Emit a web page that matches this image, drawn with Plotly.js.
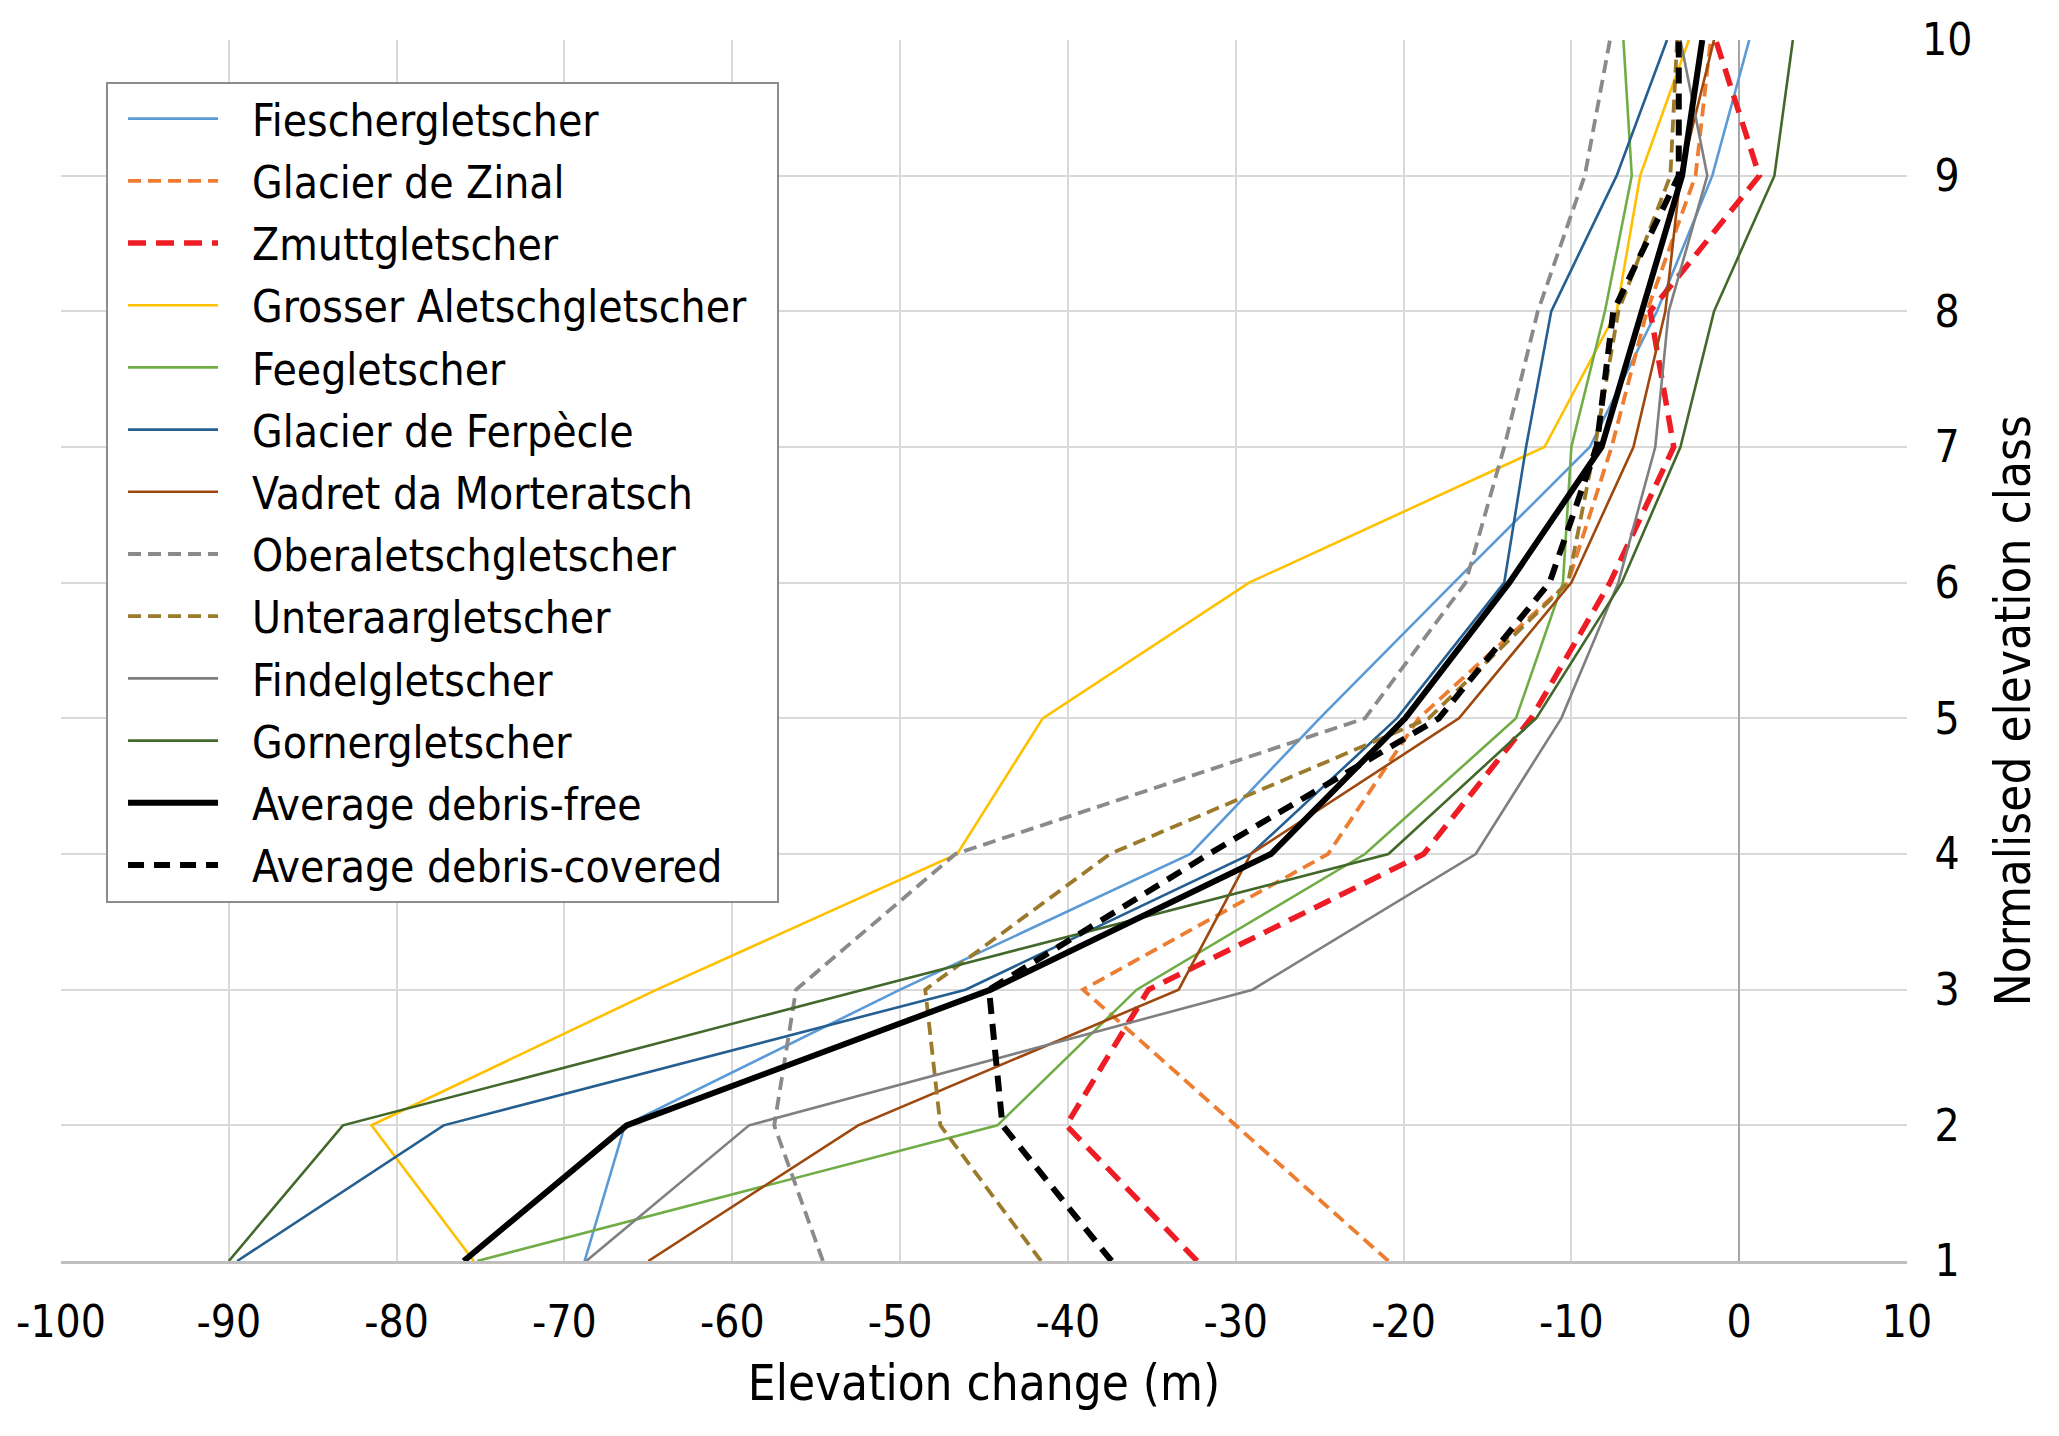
<!DOCTYPE html>
<html>
<head>
<meta charset="utf-8">
<script src="https://cdn.plot.ly/plotly-3.0.1.min.js"></script>
<style>
  html, body { margin: 0; padding: 0; background: #fff; }
  #chart { width: 2059px; height: 1436px; }
</style>
</head>
<body>
<div id="chart"></div>
<script>
var classes = [1, 2, 3, 4, 5, 6, 7, 8, 9, 10];
var classLabels = ['\u20081', '\u20082', '\u20083', '\u20084', '\u20085', '\u20086', '\u20087', '\u20088', '\u20089', '10'];
var changeTicks = [-100, -90, -80, -70, -60, -50, -40, -30, -20, -10, 0, 10];
var changeLabels = ['-100', '-90', '-80', '-70', '-60', '-50', '-40', '-30', '-20', '-10', '0', '10'];

var fiesch      = [-68.8, -66.4, -50.0, -32.7, -25.0, -17.0, -8.9, -4.9, -1.6, 0.6];
var zinal       = [-20.9, -30.0, -39.1, -24.5, -19.1, -10.2, -7.6, -5.5, -2.6, -1.7];
var zmutt       = [-32.3, -40.1, -35.2, -18.8, -12.4, -7.7, -3.9, -5.3, 1.2, -1.4];
var aletsch     = [-75.4, -81.5, -64.5, -46.6, -41.5, -29.2, -11.6, -7.3, -5.9, -3.0];
var fee         = [-75.2, -44.2, -35.9, -22.3, -13.3, -10.5, -10.0, -8.0, -6.4, -6.9];
var ferpecle    = [-89.5, -77.2, -46.1, -29.1, -20.4, -14.0, -12.7, -11.2, -7.3, -4.3];
var morteratsch = [-65.0, -52.5, -33.4, -29.1, -16.7, -10.0, -6.3, -4.4, -3.5, -1.5];
var oberaletsch = [-54.6, -57.5, -56.2, -46.7, -22.3, -16.3, -14.0, -12.0, -9.2, -7.7];
var unteraar    = [-41.6, -47.6, -48.5, -37.5, -18.5, -10.2, -8.6, -7.2, -4.1, -3.7];
var findel      = [-68.7, -59.0, -29.0, -15.7, -10.6, -7.2, -5.0, -4.2, -1.9, -3.5];
var gorner      = [-90.0, -83.2, -52.2, -20.9, -12.1, -7.0, -3.5, -1.5, 2.1, 3.2];
var avgFree     = [-76.0, -66.3, -44.6, -27.9, -19.9, -13.7, -8.2, -5.8, -3.4, -2.2];
var avgCovered  = [-37.4, -43.9, -44.7, -31.6, -17.9, -11.3, -8.5, -7.5, -3.6, -3.6];

var FONT = '"DejaVu Sans Condensed", "DejaVu Sans", sans-serif';
// spacing round the legend labels (gap after the line, room before the border)
var PAD = '\u00a0\u00a0\u200a';
var TAIL = '\u00a0\u00a0';

function line(name, vals, color, width, dash, group) {
  return {
    x: vals,
    y: classes,
    name: PAD + name + TAIL,
    type: 'scatter',
    mode: 'lines',
    legendgroup: group,
    line: { color: color, width: width, dash: dash || 'solid' }
  };
}

var data = [
  line('Fieschergletscher', fiesch, '#5B9BD5', 2.6, null, 'g1'),
  line('Glacier de Zinal', zinal, '#ED7D31', 3.8, '13px,7px', 'g2'),
  line('Zmuttgletscher', zmutt, '#EE1C25', 5.5, '18px,10px', 'g3'),
  line('Grosser Aletschgletscher', aletsch, '#FFC000', 2.6, null, 'g4'),
  line('Feegletscher', fee, '#70AD47', 2.6, null, 'g5'),
  line('Glacier de Ferpècle', ferpecle, '#255E91', 2.6, null, 'g6'),
  line('Vadret da Morteratsch', morteratsch, '#9E480E', 2.6, null, 'g7'),
  line('Oberaletschgletscher', oberaletsch, '#8A8A8A', 3.8, '13px,7px', 'g8'),
  line('Unteraargletscher', unteraar, '#9C7A2B', 3.8, '13px,7px', 'g9'),
  line('Findelgletscher', findel, '#7F7F7F', 2.6, null, 'g10'),
  line('Gornergletscher', gorner, '#43682B', 2.6, null, 'g11'),
  line('Average debris-free', avgFree, '#000000', 6, null, 'g12'),
  line('Average debris-covered', avgCovered, '#000000', 6, '16px,10px', 'g13')
];

var layout = {
  width: 2059,
  height: 1436,
  margin: { l: 61, r: 152, t: 40, b: 175 },
  paper_bgcolor: '#ffffff',
  plot_bgcolor: '#ffffff',
  font: { family: FONT, size: 44, color: '#000000' },
  showlegend: true,
  legend: {
    x: 0.0244,
    y: 0.966,
    xanchor: 'left',
    yanchor: 'top',
    bgcolor: '#ffffff',
    bordercolor: '#8C8C8C',
    borderwidth: 2,
    traceorder: 'grouped',
    tracegroupgap: 2,
    itemwidth: 90,
    indentation: 15,
    font: { family: FONT, size: 44, color: '#000000' }
  },
  xaxis: {
    range: [-100, 10],
    tickmode: 'array',
    tickvals: changeTicks,
    ticktext: changeLabels,
    showgrid: true,
    gridcolor: '#D9D9D9',
    gridwidth: 2,
    zeroline: true,
    zerolinecolor: '#A6A6A6',
    zerolinewidth: 1.5,
    showline: true,
    linecolor: '#BFBFBF',
    linewidth: 3,
    ticks: '',
    ticklabelstandoff: 20,
    tickfont: { family: FONT, size: 44, color: '#000000' },
    title: {
      text: 'Elevation change (m)',
      font: { family: FONT, size: 49, color: '#000000' },
      standoff: 20
    }
  },
  yaxis: {
    side: 'right',
    range: [1, 10],
    tickmode: 'array',
    tickvals: classes,
    ticktext: classLabels,
    showgrid: true,
    gridcolor: '#D9D9D9',
    gridwidth: 2,
    zeroline: false,
    showline: false,
    ticks: '',
    ticklabelstandoff: 14,
    tickfont: { family: FONT, size: 44, color: '#000000' }
  },
  annotations: [{
    text: 'Normalised elevation class',
    xref: 'paper',
    yref: 'paper',
    x: 1.0574,
    y: 0.451,
    xanchor: 'center',
    yanchor: 'middle',
    textangle: -90,
    showarrow: false,
    font: { family: FONT, size: 49, color: '#000000' }
  }]
};

var config = {
  displayModeBar: false,
  staticPlot: true
};

Plotly.newPlot('chart', data, layout, config);
</script>
</body>
</html>
